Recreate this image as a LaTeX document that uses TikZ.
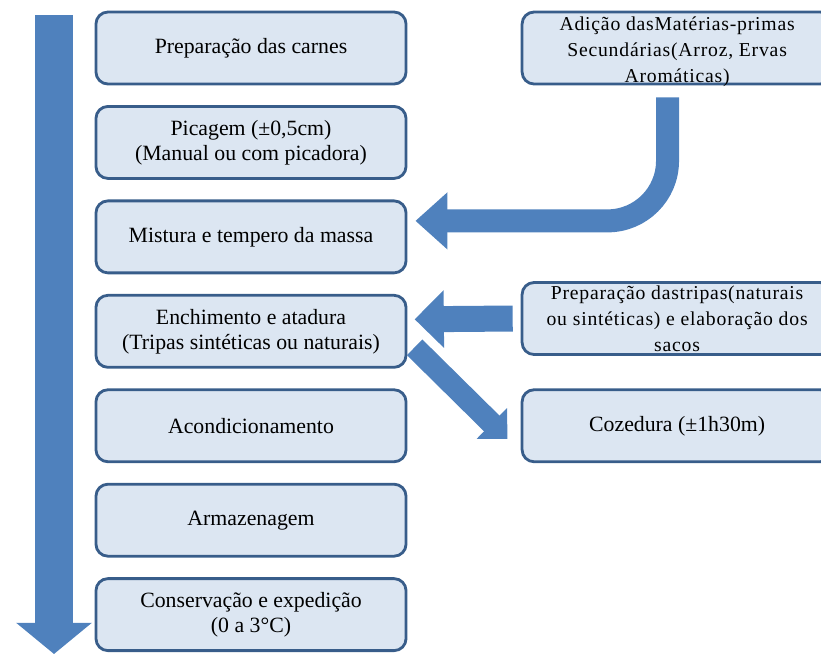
\documentclass[tikz,border=0pt]{standalone}
\usepackage{fontspec}
\setmainfont{Liberation Serif}
\usepackage{xcolor}
\definecolor{FlowBlue}{HTML}{4F81BD}
\definecolor{BoxEdge}{HTML}{385D8A}
\definecolor{BoxFill}{HTML}{DCE6F2}
\usetikzlibrary{arrows.meta, positioning, calc}
\tikzset{
  % Box styles
  processbox/.style={rectangle, rounded corners=0.3cm, draw=BoxEdge, fill=BoxFill, line width=2pt, minimum width=7.75cm, minimum height=1.8cm, align=center, font=\fontsize{15.5}{17.8}\selectfont},
  sidebox/.style={processbox, minimum width=7.75cm},
  boxtext/.style={inner sep=0pt, align=center, font=\fontsize{14}{18.5}\selectfont\addfontfeatures{LetterSpace=4}},
  % Arrow styles
  flowarrow/.style={draw=FlowBlue, line width=#1},
  flowarrow/.default=0.6cm
}

\begin{document}
\begin{tikzpicture}[x=0.025cm, y=-0.025cm]
  \useasboundingbox (0,0) rectangle (821,654);
  \clip (0,0) rectangle (821,654);

  % Main sequence
  \node[processbox] (carnes) at (251,48) {Preparação das carnes};
  \node[processbox, below=0.49cm of carnes] (picagem) {Picagem (±0,5cm)\\(Manual ou com picadora)};
  \node[processbox, below=0.49cm of picagem] (mistura) {Mistura e tempero da massa};
  \node[processbox, below=0.49cm of mistura] (enchimento) {Enchimento e atadura\\(Tripas sintéticas ou naturais)};
  \node[processbox, below=0.49cm of enchimento] (acond) {Acondicionamento};
  \node[processbox, below=0.49cm of acond] (armazenagem) {Armazenagem};
  \node[processbox, below=0.49cm of armazenagem] (conservacao) {Conservação e expedição\\(0 a 3°C)};

  % Side steps
  \node[sidebox, right=2.83cm of carnes] (adicao) {};
  \node[boxtext, below=0.16cm of adicao.north] (adicaotxt) {Adição dasMatérias-primas\\Secundárias(Arroz, Ervas\\Aromáticas)};
  \node[sidebox, right=2.83cm of acond] (cozedura) {Cozedura (±1h30m)};
  \node[sidebox, above=0.81cm of cozedura] (tripas) {};
  \node[boxtext, below=0.12cm of tripas.north] (tripastxt) {Preparação dastripas(naturais\\ou sintéticas) e elaboração dos\\sacos};

  % Arrows
  \coordinate (flowtop) at (54,15);
  \coordinate (flowend) at (54,654);
  \draw[flowarrow=0.95cm, -{Triangle[length=0.78cm, width=1.85cm]}] (flowtop) -- (flowend);

  \draw[flowarrow=0.575cm, rounded corners=1.5cm, -{Triangle[length=0.8cm, width=1.38cm]}]
    ([xshift=-0.24cm, yshift=-0.3cm]adicao.south) |- ([xshift=0.2cm, yshift=0.4cm]mistura.east);

  \draw[flowarrow=0.65cm, -{Triangle[length=0.73cm, width=1.4cm]}]
    ([xshift=-0.2cm]tripas.west) -- ([xshift=0.18cm, yshift=0.3cm]enchimento.east);

  \draw[flowarrow=0.55cm, -{Triangle[length=0.55cm, width=1.05cm]}]
    ([xshift=0.18cm, yshift=-0.4cm]enchimento.east) -- ([xshift=-0.33cm, yshift=-0.33cm]cozedura.west);
\end{tikzpicture}
\end{document}
